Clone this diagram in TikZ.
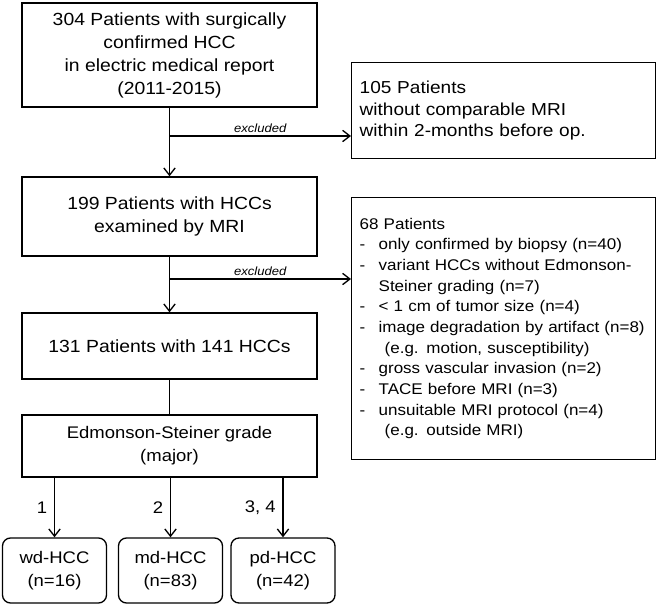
\documentclass[tikz,border=0pt]{standalone}
\usepackage{fontspec}
\setmainfont[FakeStretch=1.1]{Liberation Sans}
\usetikzlibrary{arrows.meta,positioning}

\tikzset{
  box/.style = {draw, line width=1pt, align=center, minimum width=221.25pt,
                font=\fontsize{13.2}{17.25}\selectfont},
  sidebox/.style = {draw, line width=1pt, align=left, anchor=north west,
                    inner xsep=6pt, text width=216pt, minimum width=228pt},
  leaf/.style = {draw, line width=1pt, rounded corners=6pt, align=center,
                 minimum width=78pt, minimum height=48.75pt,
                 font=\fontsize{12.6}{17.25}\selectfont},
  arr/.style = {line width=1pt, -{Straight Barb[length=5.5pt,width=8.5pt]}},
  lbl/.style = {font=\fontsize{8.9}{11}\selectfont\itshape, above, inner sep=2pt},
  grade/.style = {font=\fontsize{12.6}{14}\selectfont, left, inner sep=5pt}
}
\newcommand{\dsh}{\makebox[14.25pt][l]{-}}
\newcommand{\ind}{\hspace*{14.25pt}}

\begin{document}
\begin{tikzpicture}[x=0.75pt, y=-0.75pt]
\useasboundingbox (0,0) rectangle (658,606);

% main flow
\node[box, minimum height=78pt] (all) at (169.5,55) {304 Patients with surgically\\ confirmed HCC\\ in electric medical report\\ (2011-2015)};
\node[box, minimum height=59.25pt] (mri) at (169.5,216.5) {199 Patients with HCCs\\ examined by MRI};
\node[box, minimum height=49.5pt] (incl) at (169.5,346) {131 Patients with 141 HCCs};
\node[box, minimum height=46.5pt, font=\fontsize{12.6}{17.25}\selectfont] (es) at (169.5,446) {Edmonson-Steiner grade\\ (major)};

% excluded
\node[sidebox, minimum height=72pt, font=\fontsize{13}{16.3}\selectfont] (ex1) at (351,62)
  {105 Patients\\ without comparable MRI\\ within 2-months before op.};
\node[sidebox, minimum height=196.5pt, font=\fontsize{11.6}{15.5}\selectfont] (ex2) at (351,197)
  {68 Patients\\
   \dsh only confirmed by biopsy (n=40)\\
   \dsh variant HCCs without Edmonson-\\
   \ind Steiner grading (n=7)\\
   \dsh {<} 1 cm of tumor size (n=4)\\
   \dsh image degradation by artifact (n=8)\\
   \ind\hspace*{4.5pt}(e.g. motion, susceptibility)\\
   \dsh gross vascular invasion (n=2)\\
   \dsh TACE before MRI (n=3)\\
   \dsh unsuitable MRI protocol (n=4)\\
   \ind\hspace*{4.5pt}(e.g. outside MRI)};

% grades
\node[leaf] (wd) at (54.5,570.5) {wd-HCC\\ (n=16)};
\node[leaf] (md) at (170.5,570.5) {md-HCC\\ (n=83)};
\node[leaf] (pd) at (283,570.5) {pd-HCC\\ (n=42)};

\coordinate (j1) at (169.5,136);
\coordinate (j2) at (169.5,279);

\draw[arr] (all) -- (mri);
\draw[arr] (j1) -- (j1 -| ex1.west) node[lbl, midway] {excluded};
\draw[arr] (mri) -- (incl);
\draw[arr] (j2) -- (j2 -| ex2.west) node[lbl, midway] {excluded};
\draw[line width=1pt] (incl) -- (es);
\draw[arr] (es.south -| wd) -- (wd) node[grade, midway] {1};
\draw[arr] (es.south -| md) -- (md) node[grade, midway] {2};
\draw[arr] (es.south -| pd) -- (pd) node[grade, midway] {3, 4};
\end{tikzpicture}
\end{document}
